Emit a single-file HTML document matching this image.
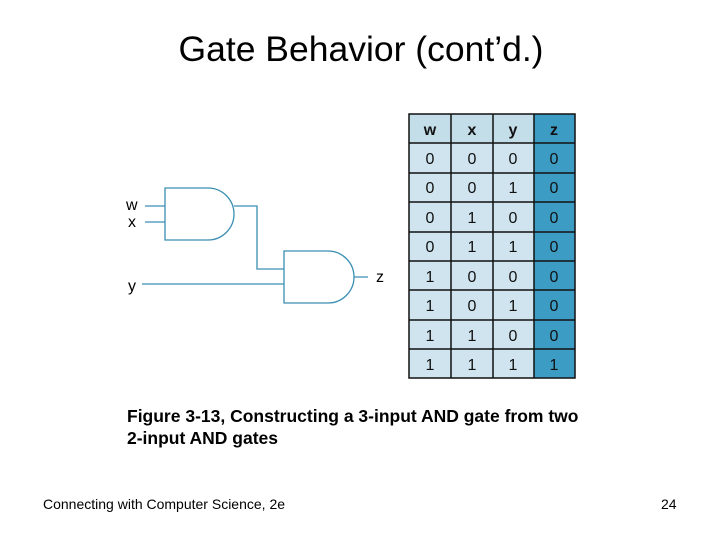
<!DOCTYPE html>
<html><head><style>
body{margin:0;width:720px;height:540px;background:#fff;position:relative;font-family:"Liberation Sans",sans-serif;overflow:hidden}
.t{position:absolute;white-space:nowrap}
</style></head><body>
<div class="t" style="left:0;width:720px;text-align:center;top:29px;font-size:35.5px;color:#000;margin-left:1px">Gate Behavior (cont’d.)</div>
<svg width="720" height="540" style="position:absolute;left:0;top:0">
<g fill="none" stroke="#3a8fb2" stroke-width="1.3">
<path d="M165 188 H208 A26 26 0 0 1 208 240 H165 Z"/>
<path d="M284 251 H328 A26 26 0 0 1 328 303 H284 Z"/>
<path d="M145 206 H165 M145 222 H165 M234 206 H257 V269 H284 M142 284 H284 M354 277 H368"/>
</g>
<g font-family="Liberation Sans" font-size="16" fill="#000">
<text x="126" y="210">w</text><text x="128" y="227">x</text><text x="128" y="291">y</text><text x="376" y="282">z</text>
</g>
<rect x="409" y="114" width="125" height="264" fill="#cfe4ee"/>
<rect x="409" y="114" width="125" height="29" fill="#c3dde9"/>
<rect x="534" y="114" width="41" height="264" fill="#3c9cc3"/>
<g stroke="#111" stroke-width="1.5">
<rect x="409" y="114" width="166" height="264" fill="none"/>
<path d="M451 114V378M493 114V378M534 114V378M409 143H575M409 173H575M409 202H575M409 232H575M409 261H575M409 290H575M409 320H575M409 349H575"/>
</g>
<g font-family="Liberation Sans" font-size="16" fill="#111" text-anchor="middle">
<text x="430" y="135" font-weight="bold">w</text><text x="472" y="135" font-weight="bold">x</text><text x="513" y="135" font-weight="bold">y</text><text x="554" y="135" font-weight="bold">z</text>
<text x="430" y="164">0</text><text x="472" y="164">0</text><text x="513" y="164">0</text><text x="554" y="164">0</text>
<text x="430" y="193">0</text><text x="472" y="193">0</text><text x="513" y="193">1</text><text x="554" y="193">0</text>
<text x="430" y="223">0</text><text x="472" y="223">1</text><text x="513" y="223">0</text><text x="554" y="223">0</text>
<text x="430" y="252">0</text><text x="472" y="252">1</text><text x="513" y="252">1</text><text x="554" y="252">0</text>
<text x="430" y="282">1</text><text x="472" y="282">0</text><text x="513" y="282">0</text><text x="554" y="282">0</text>
<text x="430" y="311">1</text><text x="472" y="311">0</text><text x="513" y="311">1</text><text x="554" y="311">0</text>
<text x="430" y="341">1</text><text x="472" y="341">1</text><text x="513" y="341">0</text><text x="554" y="341">0</text>
<text x="430" y="370">1</text><text x="472" y="370">1</text><text x="513" y="370">1</text><text x="554" y="370">1</text>
</g>
</svg>
<div class="t" style="left:127px;top:405px;font-size:17.5px;font-weight:bold;line-height:22px">Figure 3-13, Constructing a 3-input AND gate from two<br>2-input AND gates</div>
<div class="t" style="left:43px;top:496px;font-size:14px">Connecting with Computer Science, 2e</div>
<div class="t" style="left:661px;top:496px;font-size:14px">24</div>
</body></html>
